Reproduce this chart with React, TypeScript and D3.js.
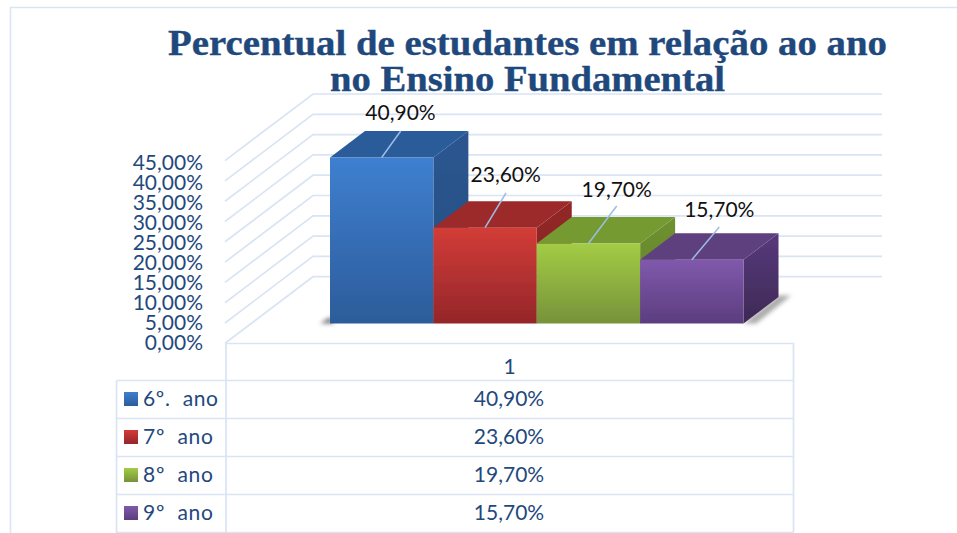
import React from "react";
import * as d3 from "d3";

const titleLines = ["Percentual de estudantes em relação ao ano", "no Ensino Fundamental"];
const categories = ["6º.  ano", "7º  ano", "8º  ano", "9º  ano"];
const values = [40.9, 23.6, 19.7, 15.7];
const valueLabels = ["40,90%", "23,60%", "19,70%", "15,70%"];
const axisTicks = [0, 5, 10, 15, 20, 25, 30, 35, 40, 45];
const tickLabels = ["0,00%", "5,00%", "10,00%", "15,00%", "20,00%", "25,00%", "30,00%", "35,00%", "40,00%", "45,00%"];
const columnLabel = "1";
const legendWidths = [75, 70, 70, 70];
const frontColors = [["#3f7fd0", "#2c5c9a"], ["#d33c37", "#94262a"], ["#a3cc45", "#76923a"], ["#8059ac", "#5c3d7f"]];
const topColors = ["#2b5c9a", "#9c2a29", "#749a32", "#5f3f7f"];
const sideColors = [["#2a5590", "#264f80"], ["#922826", "#872623"], ["#6f9030", "#62822b"], ["#57397c", "#3e2a55"]];
const labelAnchors = [[400.5, 120], [505.7, 182], [616.7, 196.5], [719.3, 217]];
const leaderEnds = [[400.7, 131], [506, 193], [616.7, 206], [719.3, 227]];

const INK = "#1f497d";
const GRID = "#d9e4f4";
const W = 957, H = 533;
const DX = 35, DY = -26.5;
const FS = 21;

const yFront = d3.scaleLinear().domain([0, 40.9]).range([323.5, 157.5]);
const yBack = d3.scaleLinear().domain([0, 45]).range([276.7, 94]);
const yTick = d3.scaleLinear().domain([0, 45]).range([350, 170]);
const x = d3.scaleBand().domain(categories).range([330, 743.5]).padding(0);
const rowY = d3.scaleBand().domain(categories).range([380, 532]);
const wallLeft = 313, wallRight = 882, sideLeft = 225, sideDrop = 66.6;
const poly = (pts: number[][]) => (d3.line()(pts as [number, number][]) ?? "") + "Z";

export default function App() {
  const body = "Lato, 'Open Sans', sans-serif";
  return (
    <svg width={W} height={H} viewBox={`0 0 ${W} ${H}`} style={{ position: "absolute", left: 0, top: 0, display: "block", background: "#fff" }}>
      <defs>
        {frontColors.map((c, i) => (
          <linearGradient key={i} id={`f${i}`} x1="0" y1="0" x2="0" y2="1">
            <stop offset="0" stopColor={c[0]} />
            <stop offset="1" stopColor={c[1]} />
          </linearGradient>
        ))}
        {sideColors.map((c, i) => (
          <linearGradient key={i} id={`s${i}`} x1="0" y1="0" x2="0" y2="1">
            <stop offset="0" stopColor={c[0]} />
            <stop offset="1" stopColor={c[1]} />
          </linearGradient>
        ))}
        <filter id="sh" x="-30%" y="-30%" width="160%" height="160%"><feGaussianBlur stdDeviation="2" /></filter>
        <filter id="soft" x="-2%" y="-2%" width="104%" height="104%"><feGaussianBlur stdDeviation="0.35" /></filter>
      </defs>

      <path d={`M10.5,${H}V7.5H${W}`} fill="none" stroke={GRID} strokeWidth={1.6} />

      <g stroke={GRID} strokeWidth={1.7} fill="none">
        {axisTicks.map((t) => (
          <path key={t} d={`M${sideLeft},${yBack(t) + sideDrop}L${wallLeft},${yBack(t)}H${wallRight}`} />
        ))}
      </g>

      <g fontFamily={body} fontSize={FS} fill={INK} textAnchor="end">
        {axisTicks.map((t, i) => (
          <text key={t} x={203} y={yTick(t)}>{tickLabels[i]}</text>
        ))}
      </g>

      <g filter="url(#sh)">
        <path d={poly([[320, 323.5], [330, 317], [334, 323.5]])} fill="#777" />
        <path d={poly([[743.5, 323.5], [778.5, 295.5], [791, 295.5], [756, 323.5]])} fill="#aaa" />
      </g>

      <g filter="url(#soft)">
        {categories.map((c, i) => {
          const x0 = x(c)!, x1 = x0 + x.bandwidth();
          const yt = yFront(values[i]), yb = yFront(0);
          return (
            <g key={c}>
              <path d={poly([[x1, yt], [x1 + DX, yt + DY], [x1 + DX, yb + DY], [x1, yb]])} fill={`url(#s${i})`} />
              <path d={poly([[x0, yt], [x0 + DX, yt + DY], [x1 + DX, yt + DY], [x1, yt]])} fill={topColors[i]} />
              <rect x={x0} y={yt} width={x.bandwidth()} height={yb - yt} fill={`url(#f${i})`} />
            </g>
          );
        })}
      </g>

      <g stroke="#9dbde3" strokeWidth={1.5}>
        {categories.map((c, i) => (
          <line key={c}
            x1={x(c)! + x.bandwidth() * 0.5} y1={yFront(values[i])}
            x2={leaderEnds[i][0]} y2={leaderEnds[i][1]} />
        ))}
      </g>

      <g fontFamily={body} fontSize={FS} fill="#111" textAnchor="middle">
        {valueLabels.map((l, i) => (
          <text key={l} x={labelAnchors[i][0]} y={labelAnchors[i][1]}>{l}</text>
        ))}
      </g>

      <g fontFamily="'Liberation Serif', serif" fontWeight={700} fontSize={35} fill={INK} stroke={INK} strokeWidth={0.35} textAnchor="middle">
        <text x={527.5} y={55} textLength={719} lengthAdjust="spacingAndGlyphs">{titleLines[0]}</text>
        <text x={527.5} y={90.5} textLength={395} lengthAdjust="spacingAndGlyphs">{titleLines[1]}</text>
      </g>

      <g stroke={GRID} strokeWidth={1.7} fill="none">
        <path d={`M226,343.5H793.5V532.5`} />
        <path d={`M226,343.5V${H}`} />
        <path d={`M116.5,380.5V${H}`} />
        {categories.map((c) => (
          <path key={c} d={`M116.5,${rowY(c)! + 0.5}H793.5`} />
        ))}
        <path d={`M116.5,532.5H793.5`} />
      </g>

      <text x={509.5} y={374} fontFamily={body} fontSize={FS} fill={INK} textAnchor="middle">{columnLabel}</text>
      {categories.map((c, i) => {
        const y0 = rowY(c)!;
        return (
          <g key={c} fontFamily={body} fontSize={FS} fill={INK}>
            <rect x={124} y={y0 + 12} width={14} height={14} fill={`url(#f${i})`} />
            <text x={143} y={y0 + 26} style={{ whiteSpace: "pre" }} textLength={legendWidths[i]}>{c}</text>
            <text x={509} y={y0 + 26} textAnchor="middle">{valueLabels[i]}</text>
          </g>
        );
      })}
    </svg>
  );
}
